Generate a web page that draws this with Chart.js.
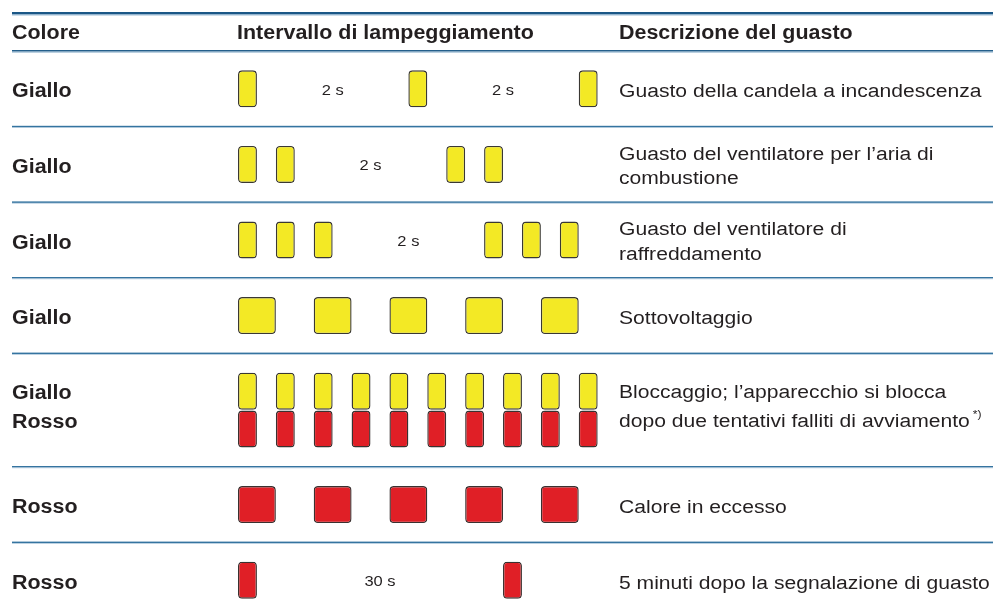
<!DOCTYPE html>
<html><head><meta charset="utf-8">
<script src="https://cdn.jsdelivr.net/npm/chart.js@4.4.1/dist/chart.umd.min.js"></script>
<style>html,body{margin:0;padding:0;background:#fff;overflow:hidden}canvas{display:block}</style>
</head><body>
<canvas id="c" width="993" height="612"></canvas>
<script>
// ---- data ----
const headers = ['Colore', 'Intervallo di lampeggiamento', 'Descrizione del guasto'];
const colourLabels = [['Giallo'], ['Giallo'], ['Giallo'], ['Giallo'], ['Giallo', 'Rosso'], ['Rosso'], ['Rosso']];
const descriptions = [
  ['Guasto della candela a incandescenza'],
  ['Guasto del ventilatore per l\u2019aria di', 'combustione'],
  ['Guasto del ventilatore di', 'raffreddamento'],
  ['Sottovoltaggio'],
  ['Bloccaggio; l\u2019apparecchio si blocca', 'dopo due tentativi falliti di avviamento'],
  ['Calore in eccesso'],
  ['5 minuti dopo la segnalazione di guasto']
];
// flash start times (time slots) per row
const yellowFlashes = [[0, 9, 18], [0, 2, 11, 13], [0, 2, 4, 13, 15, 17], [0, 4, 8, 12, 16], [0, 2, 4, 6, 8, 10, 12, 14, 16, 18], [], []];
const redFlashes = [[], [], [], [], [0, 2, 4, 6, 8, 10, 12, 14, 16, 18], [0, 4, 8, 12, 16], [0, 14]];
// flash length (time slots) per row
const flashLength = [1, 1, 1, 2, 1, 2, 1];
const pauseLabels = ['2 s', '2 s', '2 s', '', '', '', '30 s'];
const footnoteMark = '*)';

// ---- layout (row heights in row units) ----
const rowSpans = colourLabels.map(c => c.length > 1 ? 1.5 : 1);
const rowTop = [];
let acc = 0;
rowSpans.forEach(s => { rowTop.push(acc); acc += s; });
const rowCenter = rowSpans.map((s, i) => rowTop[i] + s / 2);
function flashRowPos(i, colour) {
  const both = yellowFlashes[i].length && redFlashes[i].length;
  if (!both) return rowCenter[i];
  return rowCenter[i] + (colour === 'y' ? -0.25 : 0.25);
}
function buildData(list, colour) {
  const out = [];
  list.forEach((starts, i) => starts.forEach(s => out.push({ y: flashRowPos(i, colour), x: [s, s + flashLength[i]] })));
  return out;
}

const TEXT = '#231f20';
const SX = 1.1;
function txt(ctx, t, x, y, font, align) {
  ctx.save();
  ctx.font = font;
  ctx.fillStyle = TEXT;
  ctx.textBaseline = 'alphabetic';
  ctx.translate(x, y);
  ctx.scale(SX, 1);
  ctx.textAlign = align || 'left';
  ctx.fillText(t, 0, 0);
  const w = ctx.measureText(t).width * SX;
  ctx.restore();
  return w;
}

const tablePlugin = {
  id: 'table',
  beforeDatasetsDraw(chart) {
    const ctx = chart.ctx;
    const y = chart.scales.y;
    const L = 12, R = 993;
    ctx.save();
    // top rule
    let p = y.getPixelForValue(-0.5);
    ctx.fillStyle = '#1b5786'; ctx.fillRect(L, p - 1.2, R - L, 2.2);
    ctx.fillStyle = '#86abc9'; ctx.fillRect(L, p + 1, R - L, 1.2);
    // header rule
    p = y.getPixelForValue(0);
    ctx.fillStyle = '#245f8b'; ctx.fillRect(L, p - 1, R - L, 1.6);
    ctx.fillStyle = '#8fb1cc'; ctx.fillRect(L, p + 0.6, R - L, 1);
    // row rules
    for (let i = 1; i < rowTop.length; i++) {
      p = y.getPixelForValue(rowTop[i]);
      ctx.fillStyle = '#3574a0'; ctx.fillRect(L, p - 0.8, R - L, 1.5);
      ctx.fillStyle = '#a9c4da'; ctx.fillRect(L, p + 0.7, R - L, 0.7);
    }
    ctx.restore();
  },
  afterDatasetsDraw(chart) {
    const ctx = chart.ctx;
    const x = chart.scales.x, y = chart.scales.y;
    const colX = [12, 237, 619];
    const bold = 'bold 19.5px "Liberation Sans", Arial, sans-serif';
    const reg = '19.2px "Liberation Sans", Arial, sans-serif';
    const small = '15px "Liberation Sans", Arial, sans-serif';
    const hb = y.getPixelForValue(-0.25) + 6.5;
    headers.forEach((h, i) => txt(ctx, h, colX[i], hb, bold));
    colourLabels.forEach((lines, i) => {
      const c = y.getPixelForValue(rowCenter[i]);
      if (lines.length === 1) txt(ctx, lines[0], colX[0], c + 8.5, bold);
      else { txt(ctx, lines[0], colX[0], c - 11, bold); txt(ctx, lines[1], colX[0], c + 18, bold); }
    });
    descriptions.forEach((lines, i) => {
      const c = y.getPixelForValue(rowCenter[i]);
      if (lines.length === 1) txt(ctx, lines[0], colX[2], c + 8.5, reg);
      else {
        const gap = rowSpans[i] > 1 ? 28.5 : 24.5;
        const mid = rowSpans[i] > 1 ? c + 2.5 : c + 7.5;
        txt(ctx, lines[0], colX[2], mid - gap / 2, reg);
        const w = txt(ctx, lines[1], colX[2], mid + gap / 2, reg);
        if (rowSpans[i] > 1) txt(ctx, footnoteMark, colX[2] + w + 3, mid + gap / 2 - 9, '11px "Liberation Sans", Arial, sans-serif');
      }
    });
    // pause labels in the long gaps
    pauseLabels.forEach((lab, i) => {
      if (!lab) return;
      const starts = (yellowFlashes[i].length ? yellowFlashes[i] : redFlashes[i]);
      const c = y.getPixelForValue(rowCenter[i]);
      for (let k = 0; k + 1 < starts.length; k++) {
        const end = starts[k] + flashLength[i];
        if (starts[k + 1] - end >= 4) {
          const m = (end + starts[k + 1]) / 2;
          txt(ctx, lab, x.getPixelForValue(m), c + 6, small, 'center');
        }
      }
    });
  }
};

const U = 18.93;      // pixels per time slot
const X0 = 238;       // pixel of slot 0
const RU = 75.6;      // pixels per row unit
const Y0 = 51;        // pixel of header bottom

new Chart(document.getElementById('c'), {
  type: 'bar',
  data: {
    datasets: [
      { label: 'Giallo', data: buildData(yellowFlashes, 'y'), backgroundColor: '#f3e925', borderColor: '#3a3833' },
      { label: 'Rosso', data: buildData(redFlashes, 'r'), backgroundColor: '#e01f26', borderColor: '#3a3130' }
    ]
  },
  options: {
    indexAxis: 'y',
    responsive: false,
    animation: false,
    events: [],
    layout: { padding: 0 },
    grouped: false,
    barThickness: 37,
    borderWidth: 1.4,
    borderRadius: 4,
    borderSkipped: false,
    inflateAmount: 0,
    plugins: { legend: { display: false }, tooltip: { enabled: false } },
    scales: {
      x: { type: 'linear', display: false, offset: false, min: -X0 / U, max: (993 - X0) / U },
      y: { type: 'linear', display: false, offset: false, reverse: true, min: -Y0 / RU, max: (612 - Y0) / RU }
    }
  },
  plugins: [tablePlugin]
});
</script>
</body></html>
